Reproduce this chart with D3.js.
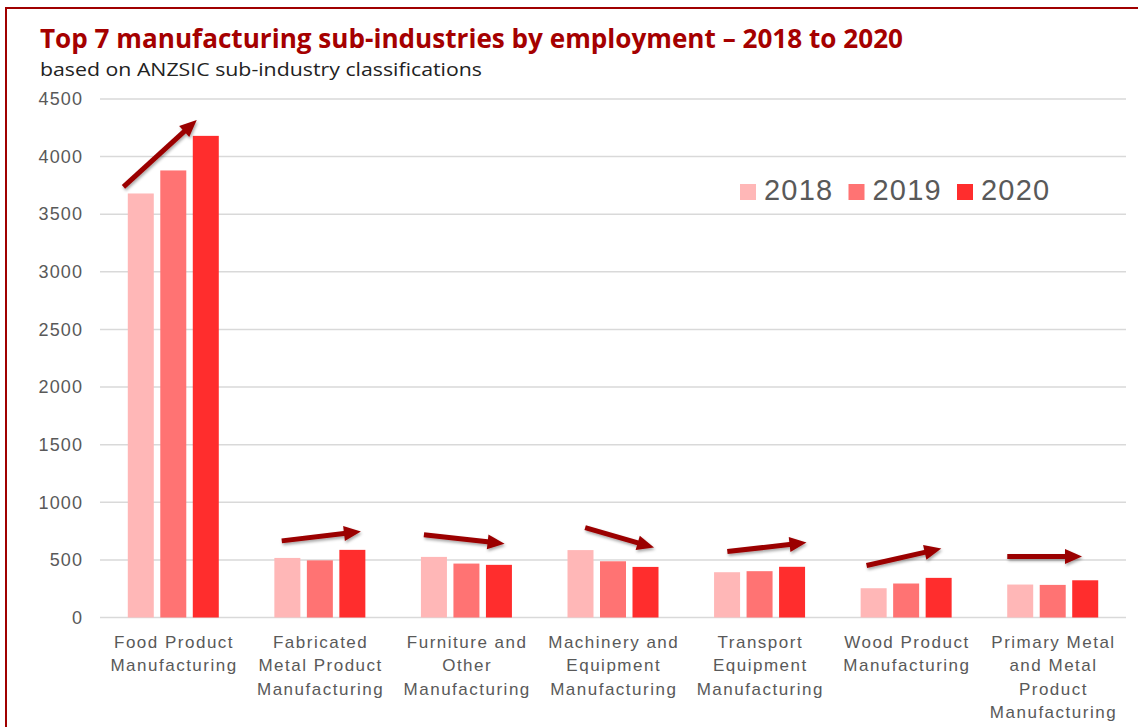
<!DOCTYPE html>
<html>
<head>
<meta charset="utf-8">
<script src="https://cdn.jsdelivr.net/npm/d3@7"></script>
<style>
  body { margin: 0; background: #fff; }
  svg { display: block; }
</style>
</head>
<body>
<script>
// Data
const categories = [
  "Food Product Manufacturing",
  "Fabricated Metal Product Manufacturing",
  "Furniture and Other Manufacturing",
  "Machinery and Equipment Manufacturing",
  "Transport Equipment Manufacturing",
  "Wood Product Manufacturing",
  "Primary Metal and Metal Product Manufacturing"
];
const categoryLines = [
  ["Food Product", "Manufacturing"],
  ["Fabricated", "Metal Product", "Manufacturing"],
  ["Furniture and", "Other", "Manufacturing"],
  ["Machinery and", "Equipment", "Manufacturing"],
  ["Transport", "Equipment", "Manufacturing"],
  ["Wood Product", "Manufacturing"],
  ["Primary Metal", "and Metal", "Product", "Manufacturing"]
];
const years = ["2018", "2019", "2020"];
const values2018 = [3680, 517, 526, 585, 393, 254, 286];
const values2019 = [3880, 496, 468, 488, 402, 295, 283];
const values2020 = [4180, 587, 457, 439, 440, 344, 323];
const yTicks = [0, 500, 1000, 1500, 2000, 2500, 3000, 3500, 4000, 4500];

// trend arrows: start / end value (y units) and position within the category band
const arrowStartValue = [3737, 665, 718, 780, 572, 451, 529];
const arrowEndValue   = [4318, 746, 640, 607, 650, 598, 529];
const arrowStartFrac  = [0.16, 0.24, 0.21, 0.31, 0.28, 0.23, 0.19];
const arrowEndFrac    = [0.66, 0.78, 0.76, 0.78, 0.82, 0.74, 0.70];

const width = 1138, height = 727;
const margin = { top: 99, right: 12, bottom: 109, left: 100 };

const rows = categories.map((c, i) => ({
  category: c,
  lines: categoryLines[i],
  values: [values2018[i], values2019[i], values2020[i]]
}));

const svg = d3.select("body").append("svg")
  .attr("width", width)
  .attr("height", height);

// drop shadow for the arrows
const defs = svg.append("defs");
const f = defs.append("filter").attr("id", "shadow")
  .attr("x", "-20%").attr("y", "-50%").attr("width", "140%").attr("height", "200%");
f.append("feDropShadow")
  .attr("dx", 1).attr("dy", 2).attr("stdDeviation", 1.4)
  .attr("flood-color", "#000").attr("flood-opacity", 0.35);

// outer frame
svg.append("rect")
  .attr("x", 6).attr("y", 8)
  .attr("width", 1200).attr("height", 800)
  .attr("fill", "none")
  .attr("stroke", "#a00000")
  .attr("stroke-width", 2);

// scales
const x0 = d3.scaleBand()
  .domain(categories)
  .range([margin.left, width - margin.right])
  .padding(0);

const x1 = d3.scaleBand()
  .domain(years)
  .range([0, 91])
  .paddingInner(0.2);

const groupOffset = (x0.bandwidth() - 91) / 2;

const y = d3.scaleLinear()
  .domain([0, 4500])
  .range([height - margin.bottom - 0.5, margin.top]);

const color = d3.scaleOrdinal()
  .domain(years)
  .range(["#ffb7b7", "#ff7373", "#ff2d2d"]);

// gridlines
svg.append("g")
  .selectAll("line")
  .data(yTicks)
  .join("line")
  .attr("x1", margin.left)
  .attr("x2", width - margin.right)
  .attr("y1", d => y(d))
  .attr("y2", d => y(d))
  .attr("stroke", "#d9d9d9")
  .attr("stroke-width", 1.5);

// y axis labels
const yAxis = d3.axisLeft(y).tickValues(yTicks).tickFormat(d3.format("d")).tickSize(0).tickPadding(0);
svg.append("g")
  .attr("transform", `translate(${margin.left - 17},0)`)
  .call(yAxis)
  .call(g => g.select(".domain").remove())
  .selectAll("text")
  .attr("fill", "#595959")
  .style("font-family", "'Liberation Sans', Arial, sans-serif")
  .style("font-size", "18px")
  .style("letter-spacing", "1.1px");

// bars
const groups = svg.append("g")
  .selectAll("g")
  .data(rows)
  .join("g")
  .attr("transform", d => `translate(${x0(d.category) + groupOffset},0)`);

groups.selectAll("rect")
  .data(d => d.values.map((v, i) => ({ year: years[i], value: v })))
  .join("rect")
  .attr("x", d => x1(d.year))
  .attr("y", d => y(d.value))
  .attr("width", x1.bandwidth())
  .attr("height", d => y(0) - y(d.value))
  .attr("fill", d => color(d.year));

// x axis labels
const xLabels = svg.append("g")
  .selectAll("text")
  .data(rows)
  .join("text")
  .attr("text-anchor", "middle")
  .attr("fill", "#595959")
  .style("font-family", "'Liberation Sans', Arial, sans-serif")
  .style("font-size", "17px")
  .style("letter-spacing", "1.5px")
  .attr("transform", d => `translate(${x0(d.category) + x0.bandwidth() / 2 + 0.75},648)`);

xLabels.selectAll("tspan")
  .data(d => d.lines)
  .join("tspan")
  .attr("x", 0)
  .attr("y", (d, i) => i * 23.3)
  .text(d => d);

// trend arrows
const arrowColor = "#9b0000";
const arrows = svg.append("g").attr("filter", "url(#shadow)");
categories.forEach((c, i) => {
  const xs = x0(c) + arrowStartFrac[i] * x0.bandwidth();
  const xe = x0(c) + arrowEndFrac[i] * x0.bandwidth();
  const ys = y(arrowStartValue[i]);
  const ye = y(arrowEndValue[i]);
  const ang = Math.atan2(ye - ys, xe - xs);
  const headLen = 17, headHalf = 7.5;
  const bx = xe - headLen * Math.cos(ang), by = ye - headLen * Math.sin(ang);
  arrows.append("line")
    .attr("x1", xs).attr("y1", ys)
    .attr("x2", bx + 2 * Math.cos(ang)).attr("y2", by + 2 * Math.sin(ang))
    .attr("stroke", arrowColor)
    .attr("stroke-width", 5);
  const px = -Math.sin(ang), py = Math.cos(ang);
  arrows.append("path")
    .attr("d", `M${xe},${ye} L${bx + px * headHalf},${by + py * headHalf} L${bx - px * headHalf},${by - py * headHalf} Z`)
    .attr("fill", arrowColor);
});

// legend
const legend = svg.append("g")
  .selectAll("g")
  .data(years)
  .join("g")
  .attr("transform", (d, i) => `translate(${740 + i * 108.5},184)`);

legend.append("rect")
  .attr("width", 16)
  .attr("height", 16)
  .attr("fill", d => color(d));

legend.append("text")
  .attr("x", 24)
  .attr("y", 16)
  .attr("fill", "#595959")
  .style("font-family", "'Liberation Sans', Arial, sans-serif")
  .style("font-size", "29px")
  .style("letter-spacing", "1.2px")
  .text(d => d);

// titles
svg.append("text")
  .attr("x", 40)
  .attr("y", 48)
  .attr("fill", "#a50000")
  .attr("textLength", 863)
  .attr("lengthAdjust", "spacingAndGlyphs")
  .style("font-family", "'Open Sans', sans-serif")
  .style("font-weight", "bold")
  .style("font-size", "27px")
  .text("Top 7 manufacturing sub-industries by employment \u2013 2018 to 2020");

svg.append("text")
  .attr("x", 40)
  .attr("y", 76)
  .attr("fill", "#222")
  .attr("textLength", 442)
  .attr("lengthAdjust", "spacingAndGlyphs")
  .style("font-family", "'Open Sans', sans-serif")
  .style("font-size", "18px")
  .text("based on ANZSIC sub-industry classifications");
</script>
</body>
</html>
